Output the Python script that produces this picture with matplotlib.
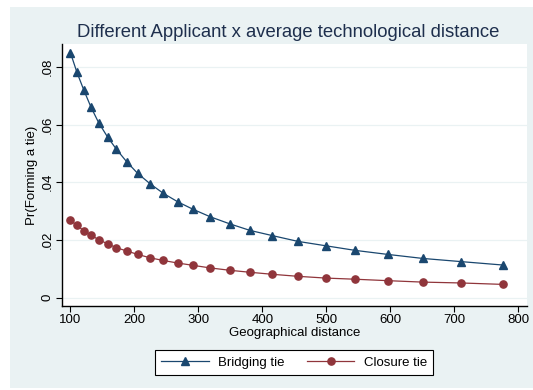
import numpy as np
import matplotlib
matplotlib.use('Agg')
import matplotlib.pyplot as plt
from matplotlib.patches import Rectangle

# 値は図から読み取り
geo_dist = [100, 110, 121, 132, 144, 158, 172, 188, 205, 225, 245, 268,
            292, 319, 349, 381, 416, 456, 499, 545, 596, 651, 711, 777]
bridging = [0.0849, 0.0782, 0.0719, 0.0661, 0.0607, 0.0557, 0.0514, 0.0471,
            0.0431, 0.0394, 0.0362, 0.0332, 0.0306, 0.0280, 0.0256, 0.0233,
            0.0215, 0.0195, 0.0180, 0.0164, 0.0150, 0.0136, 0.0125, 0.0113]
closure = [0.0268, 0.0251, 0.0232, 0.0217, 0.0201, 0.0187, 0.0173, 0.0162,
           0.0150, 0.0138, 0.0129, 0.0120, 0.0112, 0.0103, 0.0095, 0.0088,
           0.0081, 0.0074, 0.0068, 0.0064, 0.0059, 0.0054, 0.0051, 0.0046]
xticks = [100, 200, 300, 400, 500, 600, 700, 800]
yticks = [0, 0.02, 0.04, 0.06, 0.08]
ytick_labels = ['0', '.02', '.04', '.06', '.08']

NAVY = '#1a476f'
MAROON = '#90353b'
BG = '#eaf2f3'
FS = 9.5

plt.rcParams['font.family'] = ['Liberation Sans', 'DejaVu Sans']

W, H = 533, 390
fig = plt.figure(figsize=(W / 100, H / 100), dpi=100)
fig.patch.set_facecolor('white')
# graph region (Stata っぽい背景)
fig.patches.append(Rectangle((10 / W, 2 / H), 1 - 10 / W, 1 - 9 / H,
                             transform=fig.transFigure, facecolor=BG,
                             edgecolor='none', zorder=-10))

ax = fig.add_axes([62.3 / W, 1 - 306 / H, (527 - 62.3) / W, (306 - 44.3) / H])
ax.set_facecolor('white')

ax.plot(geo_dist, bridging, color=NAVY, lw=0.9, marker='^', ms=5.5,
        label='Bridging tie', zorder=3)
ax.plot(geo_dist, closure, color=MAROON, lw=0.9, marker='o', ms=5.2,
        label='Closure tie', zorder=3)

ax.set_xlim(87.3, 814)
ax.set_ylim(-0.00288, 0.0878)
ax.set_xticks(xticks)
ax.set_yticks(yticks)
ax.set_yticklabels(ytick_labels, rotation=90, va='center')
ax.tick_params(axis='both', direction='out', length=4, width=0.8,
               labelsize=FS, color='black')
ax.tick_params(axis='y', pad=2.5)
ax.tick_params(axis='x', pad=1.5)
ax.grid(axis='y', color=BG, lw=0.9, zorder=0)
ax.set_axisbelow(True)

for s in ['top', 'right']:
    ax.spines[s].set_visible(False)
for s in ['left', 'bottom']:
    ax.spines[s].set_linewidth(1.0)

ax.set_xlabel('Geographical distance', fontsize=FS, labelpad=1.0)
ax.set_ylabel('Pr(Forming a tie)', fontsize=FS, labelpad=2.5)

fig.text(288 / W, 1 - 37.3 / H,
         'Different Applicant x average technological distance',
         ha='center', va='baseline', fontsize=13.3, color='#1e2f4d')

leg = ax.legend(loc='center', bbox_to_anchor=(294 / W, 1 - 362.5 / H),
                bbox_transform=fig.transFigure, ncol=2, fontsize=FS,
                frameon=True, fancybox=False, handlelength=3.6,
                columnspacing=1.7, borderpad=0.45, handletextpad=0.7)
leg.get_frame().set_edgecolor('black')
leg.get_frame().set_linewidth(0.8)
leg.get_frame().set_facecolor('white')
leg.get_frame().set_alpha(1)

fig.savefig('out.png', dpi=100, facecolor=fig.get_facecolor())
